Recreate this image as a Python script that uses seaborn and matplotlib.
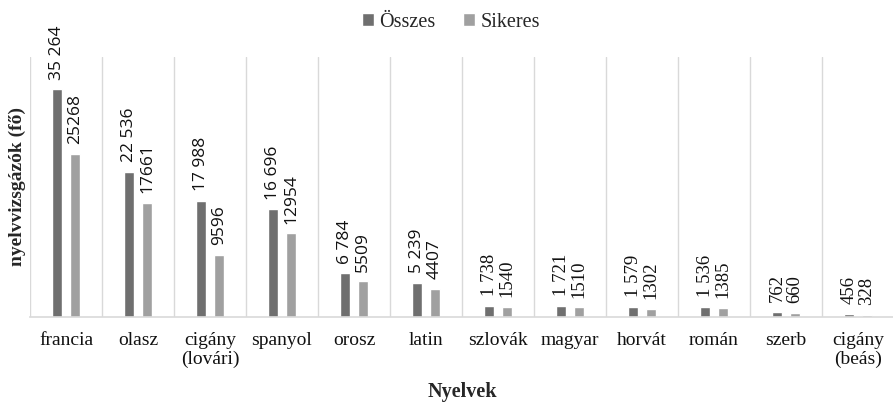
import matplotlib
matplotlib.use("Agg")
import matplotlib.pyplot as plt
import seaborn as sns
import pandas as pd

categories = ["francia", "olasz", "cigány\n(lovári)", "spanyol", "orosz", "latin",
              "szlovák", "magyar", "horvát", "román", "szerb", "cigány\n(beás)"]
osszes = [35264, 22536, 17988, 16696, 6784, 5239, 1738, 1721, 1579, 1536, 762, 456]
sikeres = [25268, 17661, 9596, 12954, 5509, 4407, 1540, 1510, 1302, 1385, 660, 328]
osszes_labels = ["35 264", "22 536", "17 988", "16 696", "6 784", "5 239",
                 "1 738", "1 721", "1 579", "1 536", "762", "456"]
sikeres_labels = ["25268", "17661", "9596", "12954", "5509", "4407",
                  "1540", "1510", "1302", "1385", "660", "328"]
series = ["Összes", "Sikeres"]

df = pd.DataFrame({
    "Nyelv": categories * 2,
    "Sorozat": [series[0]] * len(categories) + [series[1]] * len(categories),
    "Érték": osszes + sikeres,
})

sns.set_theme(style="white")
plt.rcParams["font.family"] = ["Liberation Serif", "DejaVu Serif"]

fig = plt.figure(figsize=(8.93, 4.05), dpi=100)
ax = fig.add_axes([30 / 893, 1 - 317 / 405, 864 / 893, 260 / 405])

colors = ["#6f6f6f", "#a0a0a0"]
sns.barplot(data=df, x="Nyelv", y="Érték", hue="Sorozat", palette=colors,
            width=0.5, gap=0.44, ax=ax, legend=True)

ax.set_xlim(-0.5, len(categories) - 0.5)
ax.set_ylim(0, 40300)
ax.set_yticks([])
for s in ["top", "right", "left"]:
    ax.spines[s].set_visible(False)
ax.spines["bottom"].set_color("#d9d9d9")
ax.spines["bottom"].set_linewidth(1.2)
for i in range(len(categories) + 1):
    ax.axvline(i - 0.5, color="#d9d9d9", lw=1.0, zorder=0)

ax.tick_params(axis="x", length=0, pad=11, labelsize=14)
for t in ax.get_xticklabels():
    t.set_color("#111111")
    t.set_linespacing(1.1)

# value labels
for ci, cont in enumerate(ax.containers[:2]):
    labs = osszes_labels if ci == 0 else sikeres_labels
    for i, bar in enumerate(cont):
        x = bar.get_x() + bar.get_width() / 2
        h = bar.get_height()
        if i < 6:
            fam, fs = ["Open Sans", "DejaVu Sans"], 12.5
        else:
            fam, fs = ["Liberation Serif"], 13.5
        ax.annotate(labs[i], (x, h), xytext=(0, 7), textcoords="offset points",
                    rotation=90, ha="center", va="bottom", fontsize=fs,
                    family=fam, color="#111111")

ax.set_xlabel("Nyelvek", fontsize=14.5, fontweight="bold", labelpad=10)
ax.set_ylabel("nyelvvizsgázók (fő)", fontsize=14, fontweight="bold", labelpad=3)

ax.legend(loc="upper center", bbox_to_anchor=(0.487, 1.24), ncol=2, frameon=False,
          fontsize=14.5, handlelength=0.6, handleheight=0.6, handletextpad=0.25,
          columnspacing=1.4)

fig.savefig("out.png", dpi=100)
